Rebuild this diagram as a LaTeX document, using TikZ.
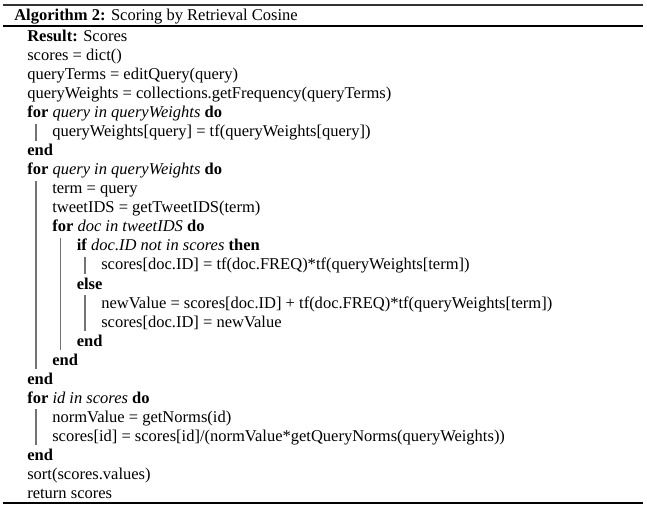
\documentclass[tikz,border=0pt]{standalone}
\usepackage{fontspec}
\setmainfont{Liberation Serif}
\newcommand\rowy[1]{(41.5+(#1-1)*19.04)}
\tikzset{
  ln/.style={anchor=base west, inner sep=0pt, font=\fontsize{10.4}{12}\selectfont},
  vbar/.style={draw=black!55, line width=0.9},
}
\begin{document}
\begin{tikzpicture}[x=0.63pt,y=-0.63pt]
\useasboundingbox (0,0) rectangle (647,517);
% rules
\draw[line width=1.8, black!80] (3,5) -- (643,5);
\draw[line width=1] (3,26) -- (643,26);
\draw[line width=1.5] (3,503) -- (643,503);
% title
\node[ln] (title) at (14,20) {\textbf{Algorithm 2:} Scoring by Retrieval Cosine};
% lines
\node[ln] (l1) at (27,{\rowy{1}}) {\textbf{Result:} Scores};
\node[ln] (l2) at (27,{\rowy{2}}) {scores = dict()};
\node[ln] (l3) at (27,{\rowy{3}}) {queryTerms = editQuery(query)};
\node[ln] (l4) at (27,{\rowy{4}}) {queryWeights = collections.getFrequency(queryTerms)};
\node[ln] (l5) at (27,{\rowy{5}}) {\textbf{for} \textit{query in queryWeights} \textbf{do}};
\node[ln] (l6) at (52,{\rowy{6}}) {queryWeights[query] = tf(queryWeights[query])};
\node[ln] (l7) at (27,{\rowy{7}}) {\textbf{end}};
\node[ln] (l8) at (27,{\rowy{8}}) {\textbf{for} \textit{query in queryWeights} \textbf{do}};
\node[ln] (l9) at (52,{\rowy{9}}) {term = query};
\node[ln] (l10) at (52,{\rowy{10}}) {tweetIDS = getTweetIDS(term)};
\node[ln] (l11) at (52,{\rowy{11}}) {\textbf{for} \textit{doc in tweetIDS} \textbf{do}};
\node[ln] (l12) at (76.5,{\rowy{12}}) {\textbf{if} \textit{doc.ID not in scores} \textbf{then}};
\node[ln] (l13) at (101,{\rowy{13}}) {scores[doc.ID] = tf(doc.FREQ)*tf(queryWeights[term])};
\node[ln] (l14) at (76.5,{\rowy{14}}) {\textbf{else}};
\node[ln] (l15) at (101,{\rowy{15}}) {newValue = scores[doc.ID] + tf(doc.FREQ)*tf(queryWeights[term])};
\node[ln] (l16) at (101,{\rowy{16}}) {scores[doc.ID] = newValue};
\node[ln] (l17) at (76.5,{\rowy{17}}) {\textbf{end}};
\node[ln] (l18) at (52,{\rowy{18}}) {\textbf{end}};
\node[ln] (l19) at (27,{\rowy{19}}) {\textbf{end}};
\node[ln] (l20) at (27,{\rowy{20}}) {\textbf{for} \textit{id in scores} \textbf{do}};
\node[ln] (l21) at (52,{\rowy{21}}) {normValue = getNorms(id)};
\node[ln] (l22) at (52,{\rowy{22}}) {scores[id] = scores[id]/(normValue*getQueryNorms(queryWeights))};
\node[ln] (l23) at (27,{\rowy{23}}) {\textbf{end}};
\node[ln] (l24) at (27,{\rowy{24}}) {sort(scores.values)};
\node[ln] (l25) at (27,{\rowy{25}}) {return scores};
% vertical block lines
\draw[vbar] (36,{\rowy{6}-13}) -- (36,{\rowy{6}+4});
\draw[vbar] (36,{\rowy{9}-13}) -- (36,{\rowy{18}+4});
\draw[vbar] (60.5,{\rowy{12}-13}) -- (60.5,{\rowy{17}+4});
\draw[vbar] (85,{\rowy{13}-13}) -- (85,{\rowy{13}+4});
\draw[vbar] (85,{\rowy{15}-13}) -- (85,{\rowy{16}+4});
\draw[vbar] (36,{\rowy{21}-13}) -- (36,{\rowy{22}+4});
\end{tikzpicture}
\end{document}
